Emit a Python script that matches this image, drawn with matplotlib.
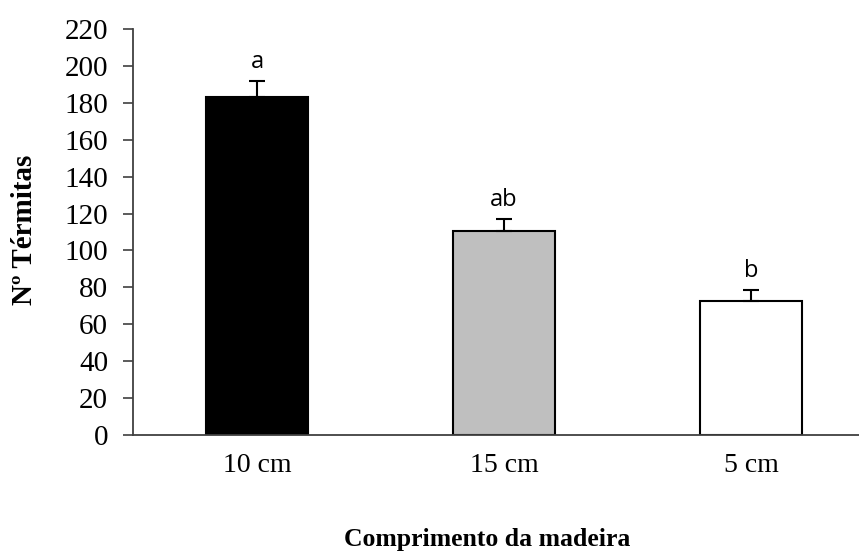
import matplotlib as mpl
mpl.use('Agg')
import matplotlib.pyplot as plt
import numpy as np

# data
categories  = ["10 cm", "15 cm", "5 cm"]
means       = [183.4, 110.5, 72.5]
errors      = [8.3, 6.5, 6.0]
letters     = ["a", "ab", "b"]
bar_colors  = ["#000000", "#bfbfbf", "#ffffff"]
y_ticks     = list(range(0, 221, 20))

SERIF = ["Liberation Serif", "DejaVu Serif"]

fig = plt.figure(figsize=(8.59, 5.53), dpi=100)
ax = fig.add_axes([0.155, 0.214, 0.845, 0.733])

x = np.arange(len(categories))
ax.bar(x, means, width=0.41, color=bar_colors, edgecolor="black", linewidth=1.5, zorder=2)
# upper half error bars only (Excel style)
ax.errorbar(x, means, yerr=[np.zeros(len(errors)), errors], fmt="none",
            ecolor="black", elinewidth=1.5, capsize=6, capthick=1.5, zorder=3)

for xi, m, e, lab in zip(x, means, errors, letters):
    ax.text(xi, m + e + 4, lab, ha="center", va="bottom", fontsize=17,
            family=["Open Sans", "DejaVu Sans"])

ax.set_xlim(-0.502, 2.437)
ax.set_ylim(0, 220)
ax.set_yticks(y_ticks)
ax.set_yticklabels([str(t) for t in y_ticks], family=SERIF, fontsize=21)
ax.set_xticks(x)
ax.set_xticklabels(categories, family=SERIF, fontsize=20)
ax.tick_params(axis="x", length=0, pad=13)
ax.tick_params(axis="y", length=7, width=1.2, color="#404040", direction="out", pad=11)

for side in ("top", "right"):
    ax.spines[side].set_visible(False)
for side in ("left", "bottom"):
    ax.spines[side].set_color("#404040")
    ax.spines[side].set_linewidth(1.3)

fig.text(0.029, 0.584, "Nº Térmitas", rotation=90, ha="center", va="center",
         family=SERIF, fontsize=21, fontweight="bold")
fig.text(0.567, 0.024, "Comprimento da madeira", ha="center", va="center",
         family=SERIF, fontsize=18.5, fontweight="bold")

plt.savefig("out.png", dpi=100)
